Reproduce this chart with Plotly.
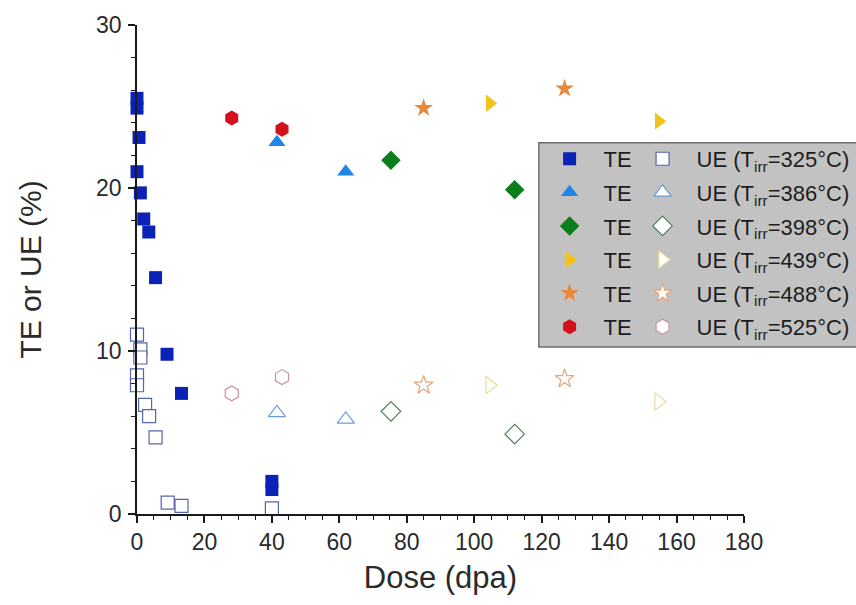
import plotly.graph_objects as go

# Irradiation temperatures (°C) for each data set
temps = [325, 386, 398, 439, 488, 525]

# Total elongation (TE, %) vs dose (dpa)
te_dose_325 = [0, 0, 0.6, 0, 1, 2, 3.5, 5.5, 8.9, 13.2, 40, 40]
te_val_325 = [25.5, 24.9, 23.1, 21.0, 19.7, 18.1, 17.3, 14.5, 9.8, 7.4, 2.0, 1.5]
te_dose_386 = [41.5, 61.9]
te_val_386 = [22.8, 21.0]
te_dose_398 = [75.3, 112.0]
te_val_398 = [21.7, 19.9]
te_dose_439 = [104.6, 154.7]
te_val_439 = [25.2, 24.1]
te_dose_488 = [85.0, 126.8]
te_val_488 = [24.9, 26.1]
te_dose_525 = [28.1, 43.0]
te_val_525 = [24.3, 23.6]

# Uniform elongation (UE, %) vs dose (dpa)
ue_dose_325 = [0, 1, 1, 0, 0, 2.4, 3.6, 5.5, 9.1, 13.2, 40]
ue_val_325 = [11.0, 10.1, 9.6, 8.5, 7.9, 6.7, 6.0, 4.7, 0.7, 0.5, 0.35]
ue_dose_386 = [41.5, 61.9]
ue_val_386 = [6.2, 5.8]
ue_dose_398 = [75.3, 112.0]
ue_val_398 = [6.3, 4.9]
ue_dose_439 = [104.6, 154.7]
ue_val_439 = [7.9, 6.9]
ue_dose_488 = [85.0, 126.8]
ue_val_488 = [7.9, 8.3]
ue_dose_525 = [28.1, 43.0]
ue_val_525 = [7.4, 8.4]

te_sets = [(te_dose_325, te_val_325), (te_dose_386, te_val_386), (te_dose_398, te_val_398),
           (te_dose_439, te_val_439), (te_dose_488, te_val_488), (te_dose_525, te_val_525)]
ue_sets = [(ue_dose_325, ue_val_325), (ue_dose_386, ue_val_386), (ue_dose_398, ue_val_398),
           (ue_dose_439, ue_val_439), (ue_dose_488, ue_val_488), (ue_dose_525, ue_val_525)]

symbols = ["square", "triangle-up", "diamond", "triangle-right", "star", "hexagon"]
sizes = [13, 15, 15, 15, 14, 15]
fill_colors = ["#0a22b8", "#1f86e8", "#0b7d1c", "#f2c31c", "#e8883c", "#d3101c"]
open_edges = ["#5566a8", "#6a9fd8", "#4f7f57", "#e7dc9c", "#e3a77a", "#c9939b"]

FONT = "Arial, Liberation Sans, sans-serif"

fig = go.Figure()

for i, t in enumerate(temps):
    x, y = te_sets[i]
    fig.add_trace(go.Scatter(
        x=x, y=y, mode="markers", name="TE",
        legend="legend", legendgroup=f"te{t}",
        marker=dict(symbol=symbols[i], size=sizes[i], color=fill_colors[i],
                    line=dict(width=0)),
        cliponaxis=False,
    ))

for i, t in enumerate(temps):
    x, y = ue_sets[i]
    fig.add_trace(go.Scatter(
        x=x, y=y, mode="markers", name=f"UE (T<sub>irr</sub>={t}°C)",
        legend="legend2", legendgroup=f"ue{t}",
        marker=dict(symbol=symbols[i], size=sizes[i], color="white",
                    line=dict(width=1.2, color=open_edges[i])),
        cliponaxis=False,
    ))

axis_common = dict(
    showline=True, linecolor="#1a1a1a", linewidth=1.5,
    ticks="outside", ticklen=7, tickwidth=1.5, tickcolor="#1a1a1a",
    showgrid=False, zeroline=False,
    tickfont=dict(family=FONT, size=23, color="#2a2a2a"),
    minor=dict(ticks="outside", ticklen=4, tickwidth=1.3, tickcolor="#1a1a1a", showgrid=False),
)

fig.update_xaxes(
    range=[0, 180], tick0=0, dtick=20,
    title=dict(text="Dose (dpa)", font=dict(family=FONT, size=31, color="#2a2a2a"), standoff=12),
    ticklabelstandoff=0,
    **axis_common,
)
fig.update_yaxes(
    range=[0, 30], tick0=0, dtick=10,
    title=dict(text="TE or UE (%)", font=dict(family=FONT, size=30, color="#2a2a2a"), standoff=46),
    ticklabelstandoff=2,
    **axis_common,
)

# Legends are placed in container coordinates so they do not push the plot margins
legend_common = dict(
    bgcolor="rgba(0,0,0,0)", borderwidth=0,
    font=dict(family=FONT, size=22, color="#1e1e1e"),
    itemwidth=58, tracegroupgap=2, traceorder="grouped",
    xref="container", yref="container",
    xanchor="left", yanchor="top", y=0.772,
    itemclick=False, itemdoubleclick=False,
)

fig.update_layout(
    width=856, height=605,
    margin=dict(l=137, r=112, t=25, b=91, autoexpand=False),
    paper_bgcolor="white", plot_bgcolor="white",
    showlegend=True,
    legend=dict(x=0.6257, **legend_common),
    legend2=dict(x=0.7343, **legend_common),
    shapes=[dict(
        type="rect", xref="paper", yref="paper",
        x0=0.662, x1=1.25, y0=0.3415, y1=0.759,
        fillcolor="#c2c2c2", line=dict(color="#6e6e6e", width=1.5), layer="below",
    )],
)

fig.write_html("out.html")
